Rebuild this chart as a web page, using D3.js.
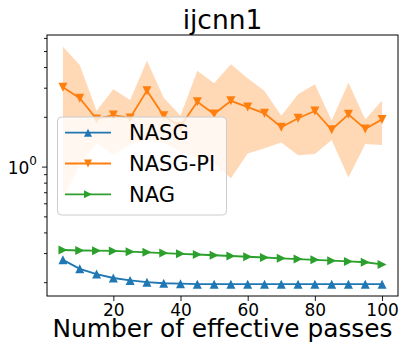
<!DOCTYPE html>
<html>
<head>
<meta charset="utf-8">
<script src="https://cdn.jsdelivr.net/npm/d3@7"></script>
<style>
  body { margin: 0; background: #fff; }
  svg { font-family: "DejaVu Sans", sans-serif; }
</style>
</head>
<body>
<div id="chart"></div>
<script>
// passes on the x axis
var passes = [5, 10, 15, 20, 25, 30, 35, 40, 45, 50, 55, 60, 65, 70, 75, 80, 85, 90, 95, 100];

var nasg = [0.273, 0.241, 0.224, 0.212, 0.205, 0.200, 0.197, 0.196, 0.1945, 0.1945,
  0.1945, 0.1945, 0.1945, 0.1945, 0.1945, 0.1945, 0.1945, 0.1945, 0.1945, 0.1945];

var nasgPi = [3.02, 2.59, 1.94, 2.05, 1.97, 2.88, 2.03, 1.75, 2.47, 2.08,
  2.50, 2.29, 2.10, 1.73, 1.96, 2.17, 1.67, 2.07, 1.69, 1.93];
var nasgPiHigh = [5.3, 4.12, 2.18, 2.94, 2.53, 4.36, 2.61, 2.03, 3.80, 3.19,
  4.16, 3.42, 2.87, 2.03, 2.74, 3.15, 1.90, 3.22, 1.93, 2.51];
var nasgPiLow = [0.64, 1.02, 1.39, 1.18, 1.36, 1.45, 1.39, 1.23, 1.13, 1.05,
  0.85, 1.20, 1.29, 1.40, 1.17, 1.19, 1.45, 0.86, 1.37, 1.35];

var nag = [0.313, 0.311, 0.310, 0.309, 0.306, 0.303, 0.300, 0.297, 0.294, 0.291,
  0.288, 0.285, 0.282, 0.279, 0.276, 0.273, 0.270, 0.267, 0.264, 0.256];

var xTicks = [20, 40, 60, 80, 100];
var yMinor = [0.2, 0.3, 0.4, 0.5, 0.6, 0.7, 0.8, 0.9, 2, 3, 4, 5, 6];

var width = 406, height = 356;
var margin = {left: 47, right: 8, top: 35, bottom: 60};

var svg = d3.select("#chart").append("svg")
  .attr("width", width)
  .attr("height", height);

var x = d3.scaleLinear().domain([0.25, 104.75]).range([margin.left, width - margin.right]);
var y = d3.scaleLog().domain([0.165, 6.25]).range([height - margin.bottom, margin.top]);

var series = [
  {name: "NASG", values: nasg, color: "#1f77b4", marker: "up"},
  {name: "NASG-PI", values: nasgPi, color: "#ff7f0e", marker: "down"},
  {name: "NAG", values: nag, color: "#2ca02c", marker: "right"}
];

function triPath(type, s) {
  var h = s / 2;
  if (type == "up") return "M0," + (-h) + "L" + h + "," + h + "L" + (-h) + "," + h + "Z";
  if (type == "down") return "M0," + h + "L" + h + "," + (-h) + "L" + (-h) + "," + (-h) + "Z";
  return "M" + h + ",0L" + (-h) + "," + (-h) + "L" + (-h) + "," + h + "Z";
}

// shaded band
var area = d3.area()
  .x(function(d, i) { return x(passes[i]); })
  .y0(function(d, i) { return y(nasgPiLow[i]); })
  .y1(function(d, i) { return y(nasgPiHigh[i]); });

svg.append("path")
  .datum(passes)
  .attr("d", area)
  .style("fill", "#ff7f0e")
  .style("fill-opacity", 0.3);

var line = d3.line()
  .x(function(d, i) { return x(passes[i]); })
  .y(function(d) { return y(d); });

series.forEach(function(s) {
  svg.append("path")
    .datum(s.values)
    .attr("d", line)
    .style("fill", "none")
    .style("stroke", s.color)
    .style("stroke-width", 1.8);

  svg.append("g").selectAll("path")
    .data(s.values)
    .enter().append("path")
    .attr("transform", function(d, i) { return "translate(" + x(passes[i]) + "," + y(d) + ")"; })
    .attr("d", triPath(s.marker, 9))
    .style("fill", s.color);
});

// axes
var xAxis = svg.append("g")
  .attr("transform", "translate(0," + (height - margin.bottom) + ")")
  .call(d3.axisBottom(x).tickValues(xTicks).tickSize(5).tickPadding(2.5).tickFormat(d3.format("d")));
xAxis.selectAll("text").style("font-size", "17px").style("fill", "#000")
  .style("font-family", "DejaVu Sans");

var yMinorAxis = svg.append("g")
  .attr("transform", "translate(" + margin.left + ",0)")
  .call(d3.axisLeft(y).tickValues(yMinor).tickSize(3).tickFormat(""));

var yMajorAxis = svg.append("g")
  .attr("transform", "translate(" + margin.left + ",0)")
  .call(d3.axisLeft(y).tickValues([1]).tickSize(5).tickFormat(""));

svg.selectAll(".domain").remove();
svg.selectAll(".tick line").style("stroke", "#000").style("stroke-width", 0.9);

var yLab = svg.append("text")
  .attr("x", 37)
  .attr("y", y(1) + 7)
  .attr("text-anchor", "end")
  .style("font-size", "17px");
yLab.append("tspan").text("10");
yLab.append("tspan").attr("dy", -9).style("font-size", "12px").text("0");

svg.append("rect")
  .attr("x", margin.left)
  .attr("y", margin.top)
  .attr("width", width - margin.left - margin.right)
  .attr("height", height - margin.top - margin.bottom)
  .style("fill", "none")
  .style("stroke", "#000")
  .style("stroke-width", 1);

// title and label
svg.append("text")
  .attr("x", (margin.left + width - margin.right) / 2)
  .attr("y", 29)
  .attr("text-anchor", "middle")
  .style("font-size", "26.5px")
  .text("ijcnn1");

svg.append("text")
  .attr("x", (margin.left + width - margin.right) / 2)
  .attr("y", 337)
  .attr("text-anchor", "middle")
  .style("font-size", "24.8px")
  .text("Number of effective passes");

// legend
var legend = svg.append("g");
legend.append("rect")
  .attr("x", 57.5)
  .attr("y", 117)
  .attr("width", 169)
  .attr("height", 98)
  .attr("rx", 4)
  .style("fill", "#fff")
  .style("fill-opacity", 0.8)
  .style("stroke", "#cccccc")
  .style("stroke-width", 1);

var rowY = [132.7, 163.5, 194.3];
series.forEach(function(s, i) {
  legend.append("line")
    .attr("x1", 65).attr("x2", 111)
    .attr("y1", rowY[i]).attr("y2", rowY[i])
    .style("stroke", s.color)
    .style("stroke-width", 1.8);
  legend.append("path")
    .attr("transform", "translate(88," + rowY[i] + ")")
    .attr("d", triPath(s.marker, 8))
    .style("fill", s.color);
  legend.append("text")
    .attr("x", 129)
    .attr("y", rowY[i] + 7.5)
    .style("font-size", "21px")
    .text(s.name);
});
</script>
</body>
</html>
